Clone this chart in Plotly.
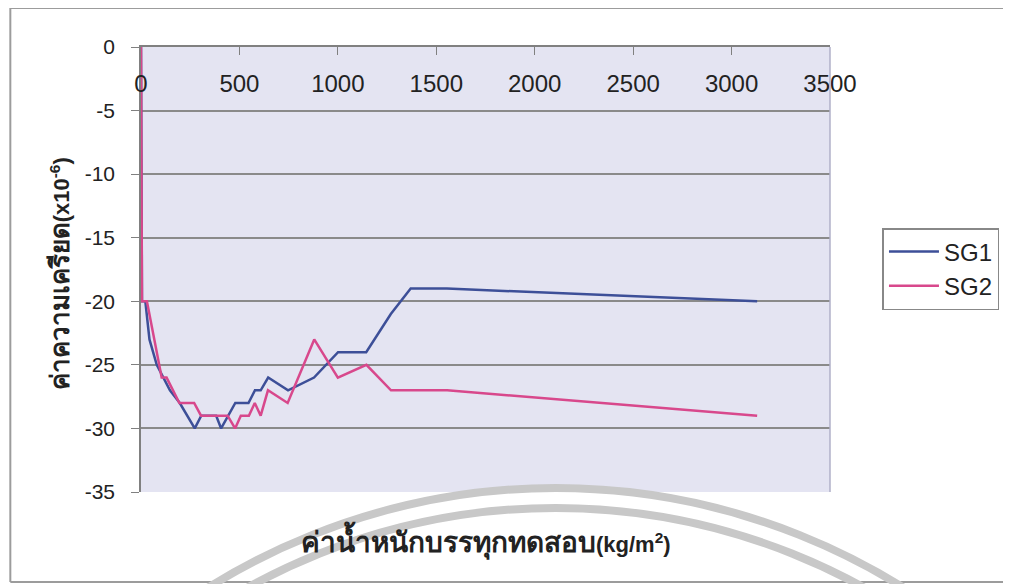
import plotly.graph_objects as go

# load (kg/m2) and strain (x10^-6)
sg1_load = [0, 5, 22, 43, 80, 114, 147, 197, 273, 306, 382, 407, 479, 546,
            579, 608, 646, 747, 879, 1001, 1144, 1269, 1370, 1554, 3130]
sg1_strain = [0, -20, -20, -23, -25, -26, -27, -28, -30, -29, -29, -30, -28, -28,
              -27, -27, -26, -27, -26, -24, -24, -21, -19, -19, -20]

sg2_load = [0, 5, 30, 105, 130, 195, 270, 305, 440, 478, 507, 548, 578, 608,
            645, 745, 880, 1000, 1145, 1270, 1555, 3130]
sg2_strain = [0, -20, -20, -26, -26, -28, -28, -29, -29, -30, -29, -29, -28, -29,
              -27, -28, -23, -26, -25, -27, -27, -29]

x_ticks = [0, 500, 1000, 1500, 2000, 2500, 3000, 3500]
y_ticks = [0, -5, -10, -15, -20, -25, -30, -35]
y_labels = ["0", "-5", "-10", "-15", "-20", "-25", "-30", "-35"]

W, H = 1011, 584
OFF = 8                          # page body margin of the browser
L, R, T, B = 141, 837, 47, 492   # plot area in screen pixels


def px_x(p):
    return (p - L) / (R - L)


def px_y(p):
    return (B - p) / (B - T)


font = "Arial, Liberation Sans, sans-serif"
frame = dict(color="#9c9c9c", width=2)

fig = go.Figure()

fig.add_trace(go.Scatter(
    x=sg1_load, y=sg1_strain, mode="lines", name="SG1",
    line=dict(color="#3d4f98", width=2.5), legendgroup="a",
))
fig.add_trace(go.Scatter(
    x=sg2_load, y=sg2_strain, mode="lines", name="SG2",
    line=dict(color="#d8488c", width=2.5), legendgroup="b",
))

shapes = [
    # chart frame: left, top and bottom edges (right side runs off the page)
    dict(type="line", xref="paper", yref="paper", x0=px_x(9), x1=px_x(9),
         y0=px_y(582), y1=px_y(8), line=frame, layer="below"),
    dict(type="line", xref="paper", yref="paper", x0=px_x(9), x1=px_x(1020),
         y0=px_y(8), y1=px_y(8), line=frame, layer="below"),
    dict(type="line", xref="paper", yref="paper", x0=px_x(9), x1=px_x(1020),
         y0=px_y(582), y1=px_y(582), line=frame, layer="below"),
    # faint watermark arcs from the scan
    dict(type="circle", xref="paper", yref="paper",
         x0=px_x(560 - 668), x1=px_x(560 + 668), y0=px_y(1156 + 668), y1=px_y(1156 - 668),
         line=dict(color="#c8c8c8", width=8), layer="below"),
    dict(type="circle", xref="paper", yref="paper",
         x0=px_x(560 - 648), x1=px_x(560 + 648), y0=px_y(1156 + 648), y1=px_y(1156 - 648),
         line=dict(color="#c8c8c8", width=8), layer="below"),
    # right edge of plot area
    dict(type="line", xref="paper", yref="paper", x0=1, x1=1, y0=0, y1=1,
         line=dict(color="#b0b0c8", width=1.5)),
]

annotations = [
    dict(text="<b><span style='font-size:26px'>ค่าความเครียด</span>(x10<sup>-6</sup>)</b>",
         xref="paper", yref="paper",
         x=px_x(59), y=px_y(392), textangle=-90, showarrow=False,
         xanchor="center", yanchor="bottom",
         font=dict(family=font, size=22, color="#222222")),
    dict(text="<b><span style='font-size:28px'>ค่าน้ำหนักบรรทุกทดสอบ</span>(kg/m<sup>2</sup>)</b>",
         xref="paper", yref="paper",
         x=px_x(489), y=px_y(540), showarrow=False,
         xanchor="center", yanchor="middle",
         font=dict(family=font, size=22, color="#222222")),
]

fig.update_layout(
    width=W - OFF, height=H - OFF,
    margin=dict(l=L - OFF, r=W - R, t=T - OFF, b=H - B, pad=0),
    paper_bgcolor="white",
    plot_bgcolor="#e4e4f2",
    font=dict(family=font, color="#222222"),
    showlegend=True,
    legend=dict(
        x=px_x(890), y=px_y(228), xanchor="left", yanchor="top",
        bgcolor="white", bordercolor="#888888", borderwidth=1.5,
        font=dict(family=font, size=24, color="#222222"),
        itemwidth=50, tracegroupgap=4, traceorder="normal",
    ),
    xaxis=dict(
        range=[0, 3500], side="top", tickvals=x_ticks,
        ticklabelposition="inside", ticklabeloverflow="allow",
        ticks="inside", ticklen=8, tickcolor="#808080",
        ticklabelstandoff=22,
        showgrid=False, zeroline=False,
        showline=True, linecolor="#808080", linewidth=1.5,
        tickfont=dict(family=font, size=24, color="#222222"),
    ),
    yaxis=dict(
        range=[-35, 0], tickvals=y_ticks, ticktext=y_labels,
        ticks="outside", ticklen=8, tickcolor="#808080",
        ticklabelstandoff=12,
        showgrid=True, gridcolor="#8a8a8a", gridwidth=1.5,
        zeroline=False, showline=True, linecolor="#808080", linewidth=1.5,
        tickfont=dict(family=font, size=21, color="#222222"),
    ),
    shapes=shapes,
    annotations=annotations,
)

fig.write_html("out.html")
